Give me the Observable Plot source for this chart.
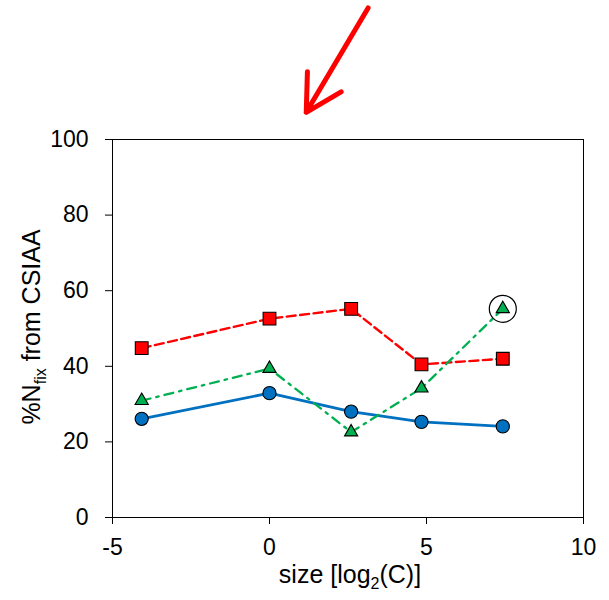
<!DOCTYPE html>
<html>
<head>
<meta charset="utf-8">
<script src="https://cdn.jsdelivr.net/npm/d3@7"></script>
<script src="https://cdn.jsdelivr.net/npm/@observablehq/plot@0.6"></script>
<style>
  html, body { margin: 0; padding: 0; background: #fff; }
  #chart { width: 609px; height: 600px; }
</style>
</head>
<body>
<div id="chart"></div>
<script>
// x positions (size, log2(C))
const sizes = [-4.07, 0, 2.60, 4.84, 7.43];
// series values (%Nfix from CSIAA)
const blueValues  = [26.1, 32.9, 28.0, 25.3, 24.1];
const redValues   = [44.8, 52.6, 55.2, 40.5, 42.0];
const greenValues = [30.9, 39.4, 22.6, 34.2, 55.2];
// tick labels
const xTicks = [-5, 0, 5, 10];
const yTicks = [0, 20, 40, 60, 80, 100];
// highlighted point (circled)
const highlight = [{x: 7.43, y: 55.2}];
// annotation arrow (in data units)
const arrowData = [{x1: 3.14, y1: 134.8, x2: 1.17, y2: 107.2}];

const toRows = (vals) => sizes.map((x, i) => ({x, y: vals[i]}));
const blue = toRows(blueValues), red = toRows(redValues), green = toRows(greenValues);

const FONT = "Liberation Sans, Arial, Helvetica, sans-serif";

const plot = Plot.plot({
  width: 609,
  height: 600,
  marginLeft: 112,
  marginRight: 26,
  marginTop: 139,
  marginBottom: 83,
  style: {fontFamily: FONT, fontSize: "23px", background: "white", color: "black"},
  x: {domain: [-5, 10]},
  y: {domain: [0, 100]},
  marks: [
    Plot.frame({stroke: "black", strokeWidth: 1}),
    Plot.axisX({ticks: xTicks, tickSize: 7, tickPadding: 14, fontSize: 23, label: null, tickFormat: d => String(d)}),
    Plot.axisY({ticks: yTicks, tickSize: 7, tickPadding: 17, fontSize: 23, label: null}),
    Plot.line(blue, {x: "x", y: "y", stroke: "#0070C0", strokeWidth: 2.8}),
    Plot.line(red, {x: "x", y: "y", stroke: "#FF0000", strokeWidth: 2.4, strokeDasharray: "9,4.5"}),
    Plot.line(green, {x: "x", y: "y", stroke: "#00B050", strokeWidth: 2.3, strokeDasharray: "9,6,2.5,6"}),
    Plot.dot(blue, {x: "x", y: "y", symbol: "circle", r: 6.6, fill: "#0070C0", stroke: "black", strokeWidth: 1.1}),
    Plot.dot(red, {x: "x", y: "y", symbol: "square", r: 7.2, fill: "#FF0000", stroke: "black", strokeWidth: 1.1}),
    Plot.dot(green, {x: "x", y: "y", symbol: "triangle", r: 4.9, fill: "#00B050", stroke: "black", strokeWidth: 1.1}),
    Plot.dot(highlight, {x: "x", y: "y", r: 13.5, fill: "none", stroke: "black", strokeWidth: 1.2}),
    Plot.arrow(arrowData, {x1: "x1", y1: "y1", x2: "x2", y2: "y2", stroke: "#FF0000", strokeWidth: 5, headLength: 22, headAngle: 58})
  ]
});

const svg = d3.select(plot);
// x-axis label with subscript
const xl = svg.append("text")
  .attr("x", 350).attr("y", 583)
  .attr("text-anchor", "middle")
  .attr("font-family", FONT).attr("font-size", 25).attr("fill", "black");
xl.append("tspan").text("size [log");
xl.append("tspan").attr("font-size", 16).attr("dy", 6).text("2");
xl.append("tspan").attr("dy", -6).text("(C)]");

// y-axis label with subscript
const yl = svg.append("text")
  .attr("transform", "translate(40,327) rotate(-90)")
  .attr("text-anchor", "middle")
  .attr("font-family", FONT).attr("font-size", 25).attr("fill", "black");
yl.append("tspan").text("%N");
yl.append("tspan").attr("font-size", 16).attr("dy", 6).text("fix");
yl.append("tspan").attr("dy", -6).text(" from CSIAA");

document.getElementById("chart").appendChild(plot);
</script>
</body>
</html>
